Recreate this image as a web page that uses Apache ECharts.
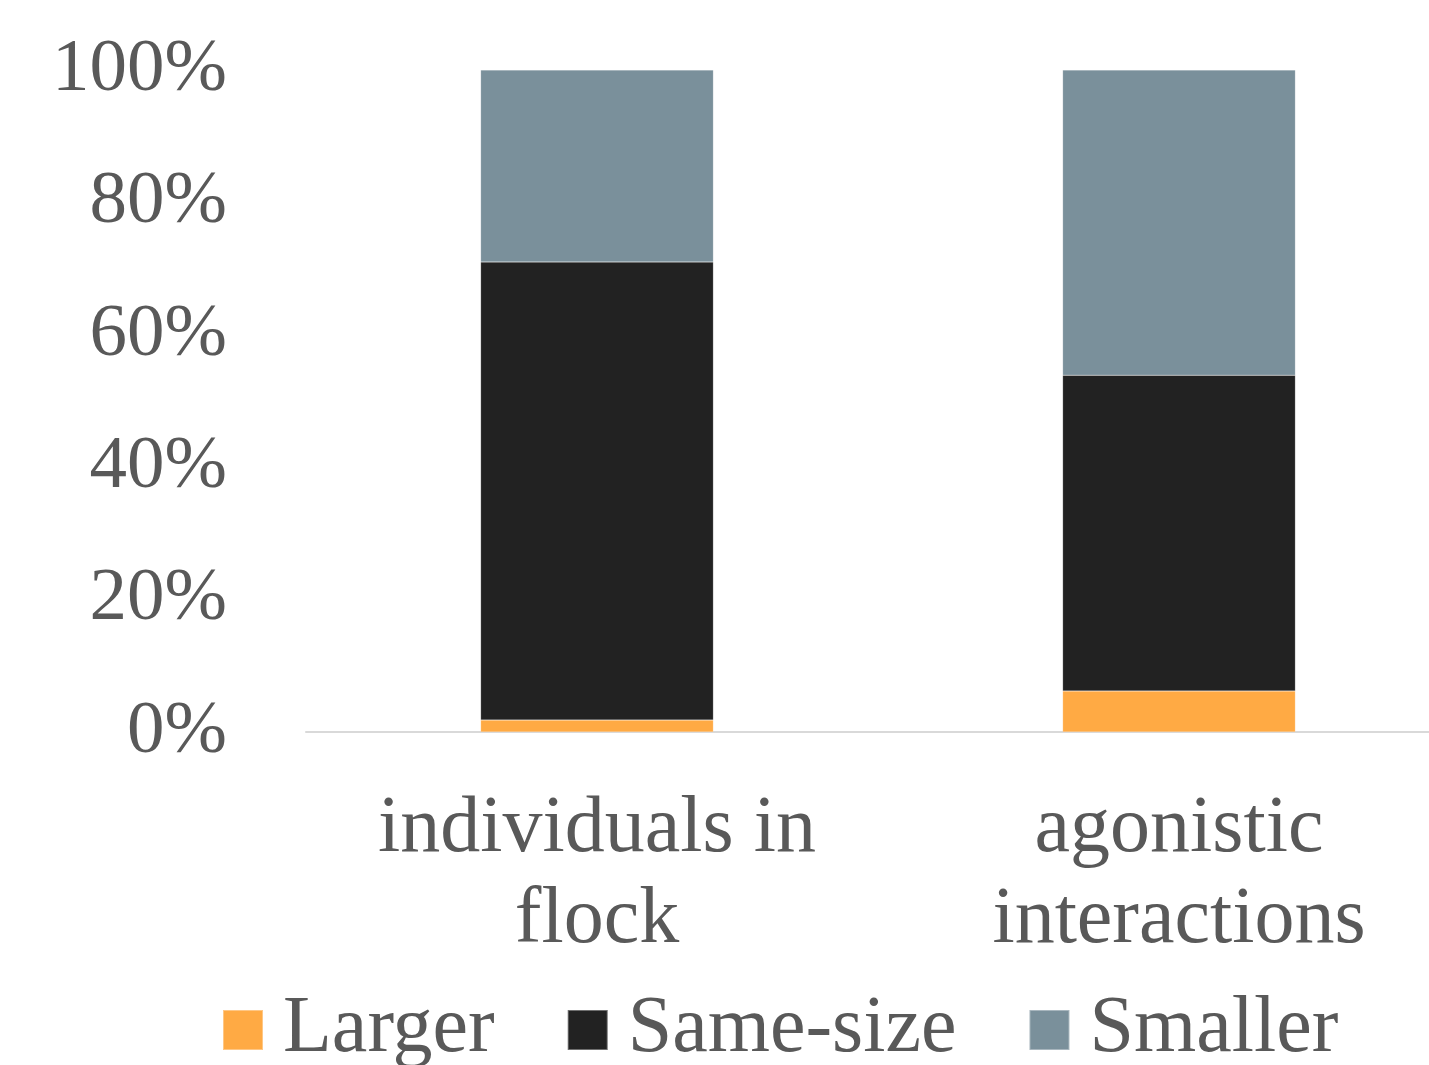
<!DOCTYPE html>
<html>
<head>
<meta charset="utf-8">
<style>
  html, body { margin: 0; padding: 0; background: #ffffff; overflow: hidden; }
  /* plot area runs past the right edge of the window, so the canvas is wider than the page */
  #chart { width: 1470px; height: 1065px; }
</style>
<script src="https://cdn.jsdelivr.net/npm/echarts@6/dist/echarts.min.js"></script>
</head>
<body>
<div id="chart"></div>
<script>
// Share of partners by relative body size (percent of total)
const categories = ['individuals in\nflock', 'agonistic\ninteractions'];
const larger   = [1.8, 6.2];
const sameSize = [69.2, 47.7];
const smaller  = [29.0, 46.1];
const yTicks = [0, 20, 40, 60, 80, 100];

const textColor = '#595959';
const font = '"Liberation Serif", "Times New Roman", serif';

const chart = echarts.init(document.getElementById('chart'), null, { renderer: 'canvas' });

function barSeries(name, data, color) {
  return {
    name: name,
    type: 'bar',
    stack: 'total',
    barWidth: '40%',
    data: data,
    itemStyle: { color: color, borderColor: 'rgba(255,255,255,0.35)', borderWidth: 0.5 },
    emphasis: { disabled: true }
  };
}

chart.setOption({
  animation: false,
  backgroundColor: '#ffffff',
  textStyle: { fontFamily: font },
  grid: { left: 306, top: 70, right: 0, height: 662, containLabel: false },
  legend: {
    top: 990,
    left: 222,
    padding: 0,
    itemWidth: 40,
    itemHeight: 40,
    itemGap: 72,
    icon: 'rect',
    textStyle: {
      color: textColor, fontSize: 80, fontFamily: font, lineHeight: 40,
      padding: [0, 0, 0, 15]
    },
    data: ['Larger', 'Same-size', 'Smaller']
  },
  xAxis: {
    type: 'category',
    data: categories,
    axisLine: { show: true, lineStyle: { color: '#d9d9d9', width: 2 } },
    axisTick: { show: false },
    axisLabel: {
      color: textColor, fontSize: 80, fontFamily: font,
      lineHeight: 91, margin: 52, interval: 0
    }
  },
  yAxis: {
    type: 'value',
    min: 0,
    max: 100,
    interval: 20,
    axisLine: { show: false },
    axisTick: { show: false },
    splitLine: { show: false },
    axisLabel: {
      color: textColor, fontSize: 75, fontFamily: font, margin: 79,
      formatter: function (v) { return yTicks.indexOf(v) >= 0 ? v + '%' : ''; }
    }
  },
  series: [
    barSeries('Larger', larger, '#ffaa44'),
    barSeries('Same-size', sameSize, '#222222'),
    barSeries('Smaller', smaller, '#7a909b')
  ]
});
</script>
</body>
</html>
